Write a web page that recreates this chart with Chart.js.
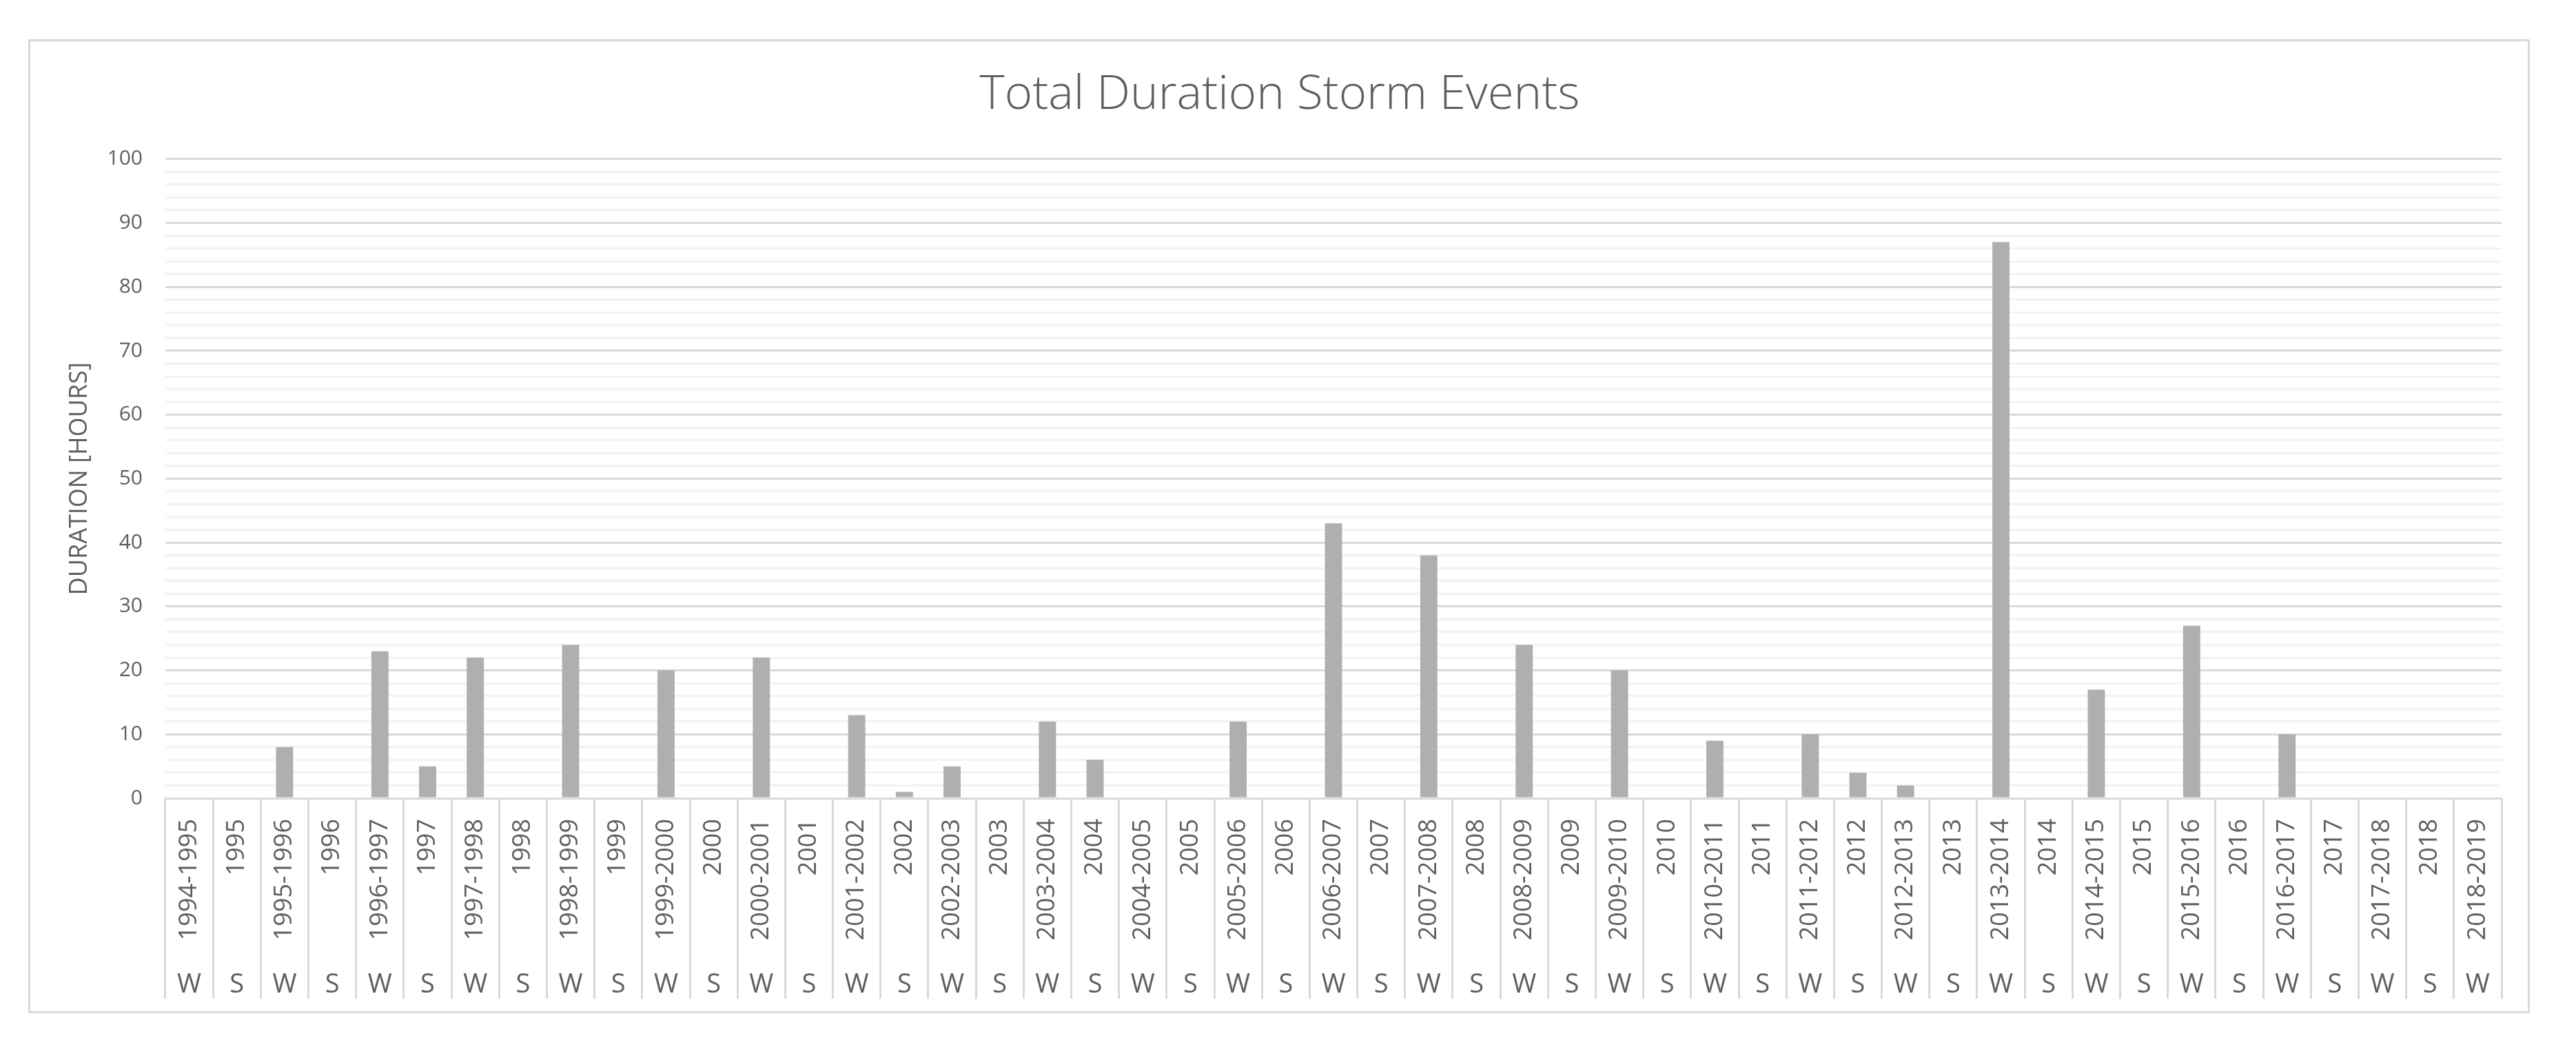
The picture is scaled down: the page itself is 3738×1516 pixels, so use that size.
<!DOCTYPE html>
<html>
<head>
<meta charset="utf-8">
<script src="https://cdn.jsdelivr.net/npm/chart.js@4.4.1/dist/chart.umd.min.js"></script>
<style>
  html, body { margin: 0; padding: 0; background: #ffffff; }
  #wrap { position: relative; width: 3738px; height: 1516px; }
  #frame {
    position: absolute; left: 41px; top: 57px; width: 3630px; height: 1413px;
    border: 3px solid #d9d9d9; box-sizing: border-box;
  }
  #chart { position: absolute; left: 0; top: 0; }
</style>
</head>
<body>
<div id="wrap">
  <div id="frame"></div>
  <canvas id="chart" width="3738" height="1516"></canvas>
</div>
<script>
// season labels (upper level) and season type (lower level)
var seasonLabels = [
    '1994-1995', '1995', '1995-1996', '1996', '1996-1997', '1997', '1997-1998', '1998',
    '1998-1999', '1999', '1999-2000', '2000', '2000-2001', '2001', '2001-2002', '2002',
    '2002-2003', '2003', '2003-2004', '2004', '2004-2005', '2005', '2005-2006', '2006',
    '2006-2007', '2007', '2007-2008', '2008', '2008-2009', '2009', '2009-2010', '2010',
    '2010-2011', '2011', '2011-2012', '2012', '2012-2013', '2013', '2013-2014', '2014',
    '2014-2015', '2015', '2015-2016', '2016', '2016-2017', '2017', '2017-2018', '2018',
    '2018-2019'
];

var seasonTypes = [
    'W', 'S', 'W', 'S', 'W', 'S', 'W', 'S', 'W', 'S', 'W', 'S', 'W', 'S', 'W', 'S',
    'W', 'S', 'W', 'S', 'W', 'S', 'W', 'S', 'W', 'S', 'W', 'S', 'W', 'S', 'W', 'S',
    'W', 'S', 'W', 'S', 'W', 'S', 'W', 'S', 'W', 'S', 'W', 'S', 'W', 'S', 'W', 'S',
    'W'
];

// total duration in hours
var durationHours = [
    0, 0, 8, 0, 23, 5, 22, 0,
    24, 0, 20, 0, 22, 0, 13, 1,
    5, 0, 12, 6, 0, 0, 12, 0,
    43, 0, 38, 0, 24, 0, 20, 0,
    9, 0, 10, 4, 2, 0, 87, 0,
    17, 0, 27, 0, 10, 0, 0, 0,
    0
];

var yMin = 0;
var yMax = 100;
var yStep = 2;

var textColor = '#5f5f5f';
var majorGrid = '#d9d9d9';
var minorGrid = '#f2f2f2';

var ctx = document.getElementById('chart').getContext('2d');

var chart = new Chart(ctx, {
    type: 'bar',
    data: {
        labels: seasonLabels,
        datasets: [{
            label: 'Duration',
            data: durationHours,
            backgroundColor: '#afafaf',
            borderWidth: 0,
            categoryPercentage: 1.0,
            barPercentage: 0.36
        }]
    },
    options: {
        responsive: false,
        animation: false,
        layout: {
            padding: { left: 84, right: 108, top: 0, bottom: 67 }
        },
        plugins: {
            legend: { display: false },
            tooltip: { enabled: false },
            title: {
                display: true,
                text: 'Total Duration Storm Events',
                color: textColor,
                font: { family: 'Open Sans', size: 69, weight: 300 },
                padding: { top: 97, bottom: 51 }
            }
        },
        scales: {
            y: {
                min: yMin,
                max: yMax,
                afterFit: function(scale) { scale.width = 156; },
                border: { display: false },
                grid: {
                    drawTicks: false,
                    lineWidth: 3,
                    color: function(c) {
                        return c.tick && c.tick.value % 10 === 0 ? majorGrid : minorGrid;
                    }
                },
                ticks: {
                    stepSize: yStep,
                    autoSkip: false,
                    padding: 33,
                    color: textColor,
                    font: { family: 'Open Sans', size: 30 },
                    callback: function(v) { return v % 10 === 0 ? v : ''; }
                },
                title: {
                    display: true,
                    text: 'DURATION [HOURS]',
                    color: textColor,
                    font: { family: 'Open Sans', size: 36 },
                    padding: { top: 10, bottom: 0 }
                }
            },
            x: {
                position: 'bottom',
                afterFit: function(scale) { scale.height = 234; },
                border: { display: false },
                grid: {
                    offset: true,
                    drawOnChartArea: false,
                    drawTicks: true,
                    tickLength: 291,
                    lineWidth: 3,
                    color: majorGrid
                },
                ticks: {
                    autoSkip: false,
                    minRotation: 90,
                    maxRotation: 90,
                    padding: -261,
                    color: textColor,
                    font: { family: 'Open Sans', size: 36 }
                }
            },
            x2: {
                type: 'category',
                position: 'bottom',
                labels: seasonTypes,
                offset: true,
                afterFit: function(scale) { scale.height = 57; },
                border: { display: false },
                grid: { display: false },
                ticks: {
                    autoSkip: false,
                    minRotation: 0,
                    maxRotation: 0,
                    padding: 6,
                    color: textColor,
                    font: { family: 'Open Sans', size: 38 }
                }
            }
        }
    }
});
</script>
</body>
</html>
